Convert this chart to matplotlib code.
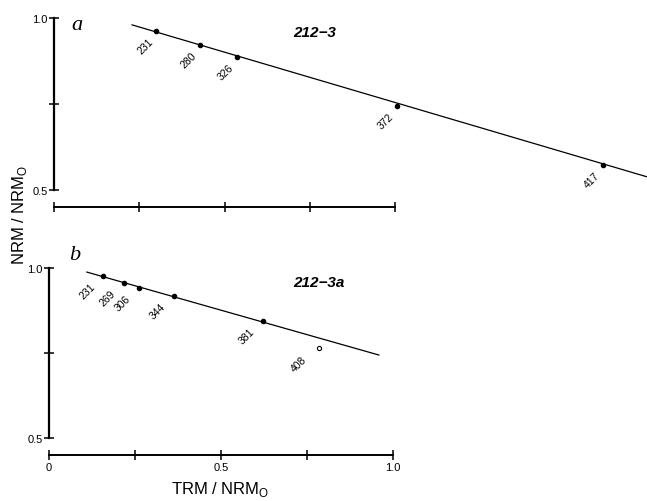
import matplotlib
matplotlib.use("Agg")
import matplotlib.pyplot as plt

plt.rcParams["font.family"] = ["Liberation Sans", "DejaVu Sans"]

# =========================================
# Data
# =========================================
# panel a: specimen 212-3
a_x = [0.300, 0.428, 0.537, 1.006, 1.610]
a_y = [0.962, 0.921, 0.887, 0.744, 0.573]
a_temps = ["231", "280", "326", "372", "417"]
a_fit_x = [0.229, 1.74]
a_fit_y = [0.980, 0.538]

# panel b: specimen 212-3a (last point open, not used in fit)
b_x = [0.157, 0.218, 0.262, 0.363, 0.622]
b_y = [0.976, 0.956, 0.941, 0.918, 0.844]
b_temps = ["231", "269", "306", "344", "381"]
b_open_x = [0.785]
b_open_y = [0.765]
b_open_temps = ["408"]
b_fit_x = [0.110, 0.959]
b_fit_y = [0.988, 0.744]

W, H = 647, 502
fig = plt.figure(figsize=(W / 100, H / 100), dpi=100)


def style_axes(ax, xlabels):
    for side in ["top", "right"]:
        ax.spines[side].set_visible(False)
    ax.spines["left"].set_bounds(0.5, 1.0)
    ax.spines["bottom"].set_bounds(0, 1.0)
    ax.spines["bottom"].set_position(("outward", 12))
    ax.spines["left"].set_linewidth(1.6)
    ax.spines["bottom"].set_linewidth(1.4)
    ax.set_ylim(0.5, 1.0)
    ax.set_yticks([0.5, 0.75, 1.0])
    ax.set_yticklabels(["0.5", "", "1.0"])
    ax.set_xticks([0, 0.25, 0.5, 0.75, 1.0])
    ax.set_xticklabels(xlabels)
    ax.tick_params(direction="inout", length=7, width=1.1, labelsize=8, pad=2)
    ax.tick_params(axis="y", pad=1)
    ax.patch.set_visible(False)


def label_points(ax, xs, ys, temps, dx=-14, dy=-15):
    for x, y, t in zip(xs, ys, temps):
        ax.annotate(t, (x, y), xytext=(dx, dy), textcoords="offset pixels",
                    rotation=45, fontsize=7.5, ha="center", va="center")


# -------- panel a --------
ax1 = fig.add_axes([54 / W, 1 - 191 / H, 593 / W, 172 / H])
ax1.set_xlim(0, 593 / 341)
ax1.plot(a_fit_x, a_fit_y, color="black", lw=0.9, clip_on=False)
ax1.plot(a_x, a_y, "o", color="black", ms=3)
label_points(ax1, a_x, a_y, a_temps, dx=-11, dy=-15)
style_axes(ax1, ["", "", "", "", ""])
ax1.text(0.03, 0.96, "a", transform=ax1.transAxes, fontsize=16, style="italic",
         family=["Liberation Serif", "DejaVu Serif"], ha="left", va="center")
ax1.text(0.44, 0.92, "212\u22123", transform=ax1.transAxes, fontsize=11,
         weight="bold", style="italic", ha="center", va="center")

# -------- panel b --------
ax2 = fig.add_axes([49 / W, 1 - 439 / H, 344 / W, 170 / H])
ax2.set_xlim(0, 1.0)
ax2.plot(b_fit_x, b_fit_y, color="black", lw=0.9)
ax2.plot(b_x, b_y, "o", color="black", ms=3)
ax2.plot(b_open_x, b_open_y, "o", mfc="white", mec="black", ms=3, mew=0.8)
label_points(ax2, b_x, b_y, b_temps, dx=-16, dy=-15)
label_points(ax2, b_open_x, b_open_y, b_open_temps, dx=-20, dy=-16)
style_axes(ax2, ["0", "", "0.5", "", "1.0"])
ax2.text(0.06, 1.08, "b", transform=ax2.transAxes, fontsize=16, style="italic",
         family=["Liberation Serif", "DejaVu Serif"], ha="left", va="center")
ax2.text(0.785, 0.92, "212\u22123a", transform=ax2.transAxes, fontsize=11,
         weight="bold", style="italic", ha="center", va="center")

# axis titles
fig.text(220 / W, 1 - 490 / H, r"TRM / NRM$_\mathregular{O}$", fontsize=12,
         ha="center", va="center")
fig.text(20 / W, 1 - 215 / H, r"NRM / NRM$_\mathregular{O}$", fontsize=12,
         rotation=90, ha="center", va="center")

fig.savefig("out.png", dpi=100)
